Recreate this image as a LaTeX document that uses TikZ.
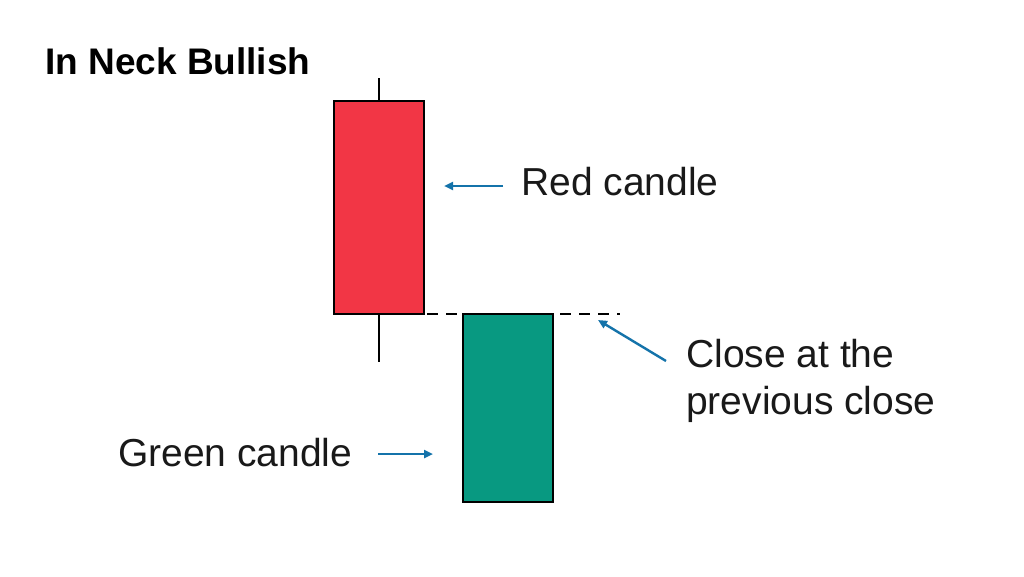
\documentclass[tikz,border=0pt]{standalone}
\usepackage{fontspec}
\setmainfont{Liberation Sans}
\usetikzlibrary{arrows.meta}
\definecolor{candlered}{RGB}{242,54,69}
\definecolor{candlegreen}{RGB}{8,153,129}
\definecolor{arrowblue}{RGB}{20,115,170}
\begin{document}
\begin{tikzpicture}[x=1pt,y=-1pt,
  candle/.style={draw=black,line width=2pt},
  wick/.style={draw=black,line width=2pt},
  pointer/.style={draw=arrowblue,line width=2.4pt,-{Triangle[length=9pt,width=8pt]}},
  lbl/.style={font=\fontsize{39}{47}\selectfont,text=black!90,inner sep=0pt,anchor=west,align=left}]
\useasboundingbox[fill=white] (0,0) rectangle (1024,576);
% title
\node[font=\bfseries\fontsize{37}{40}\selectfont,inner sep=0pt,anchor=west] (title) at (45,61) {In Neck Bullish};
% red candle
\coordinate (rtop) at (379,78);
\coordinate (rbot) at (379,362);
\draw[wick] (rtop) -- (rbot);
\node[candle,fill=candlered,minimum width=90pt,minimum height=213pt,inner sep=0pt] (red) at (379,207.5) {};
% green candle
\node[candle,fill=candlegreen,minimum width=90pt,minimum height=188pt,inner sep=0pt] (green) at (508,408) {};
% dashed close line
\coordinate (dl) at (370,314);
\coordinate (dr) at (620,314);
\draw[black,line width=2pt,dash pattern=on 11pt off 8pt] (dl) -- (dr);
% labels
\node[lbl] (redlbl) at (521,182) {Red candle};
\node[lbl] (greenlbl) at (118,453) {Green candle};
\node[lbl] (closelbl) at (686,381) {Close at the\\previous close};
% arrows
\coordinate (ra1) at (503,186);
\coordinate (ra2) at (444,186);
\draw[pointer] (ra1) -- (ra2);
\coordinate (ga1) at (378,454);
\coordinate (ga2) at (433,454);
\draw[pointer] (ga1) -- (ga2);
\coordinate (ca1) at (666,361);
\coordinate (ca2) at (598,320);
\draw[pointer] (ca1) -- (ca2);
\end{tikzpicture}
\end{document}
